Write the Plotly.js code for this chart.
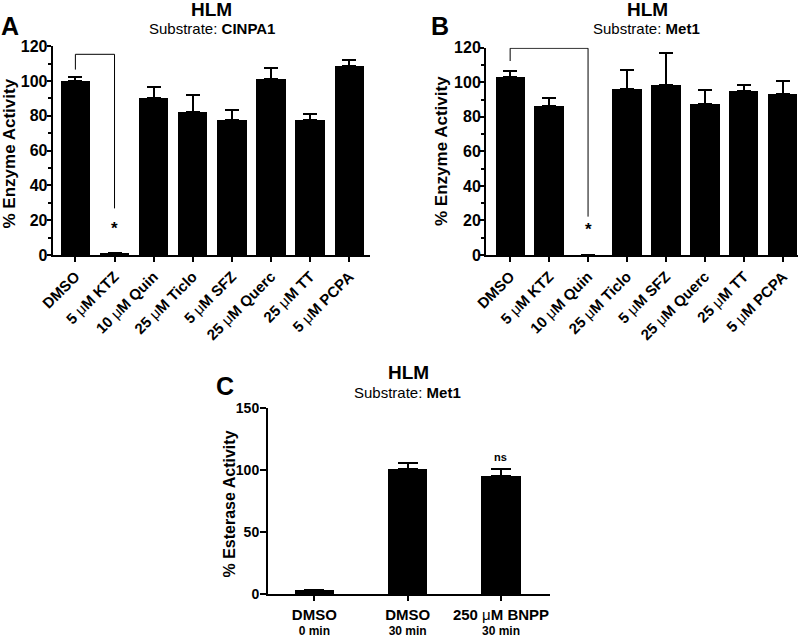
<!DOCTYPE html>
<html>
<head>
<meta charset="utf-8">
<script src="https://cdn.plot.ly/plotly-3.0.1.min.js"></script>
<style>html,body{margin:0;padding:0;background:#fff;}#chart{width:807px;height:638px;}</style>
</head>
<body>
<div id="chart"></div>
<script>
// ---------- data ----------
const catsAB = ['DMSO', '5 <span style="font-weight:normal">μ</span>M KTZ', '10 <span style="font-weight:normal">μ</span>M Quin',
  '25 <span style="font-weight:normal">μ</span>M Ticlo', '5 <span style="font-weight:normal">μ</span>M SFZ',
  '25 <span style="font-weight:normal">μ</span>M Querc', '25 <span style="font-weight:normal">μ</span>M TT',
  '5 <span style="font-weight:normal">μ</span>M PCPA'];
const valsA = [100, 1, 90.3, 82.3, 77.5, 101.2, 77.5, 108.9];
const errA  = [2.3, 0, 6.3, 9.5, 5.7, 6.1, 3.4, 3.4];
const valsB = [102.8, 86.2, 0, 96.3, 98.4, 87.6, 94.9, 93.0];
const errB  = [3.9, 4.5, 0, 10.8, 18.7, 7.7, 3.5, 7.7];

const catsC = ['<span style="font-size:15px">DMSO</span><br><span style="font-size:12px">0 min</span>',
  '<span style="font-size:15px">DMSO</span><br><span style="font-size:12px">30 min</span>',
  '<span style="font-size:15px">250 <span style="font-weight:normal">μ</span>M BNPP</span><br><span style="font-size:12px">30 min</span>'];
const valsC = [3.5, 100.5, 94.9];
const errC  = [0, 5.3, 5.8];

// significance brackets (y values) and marks
const bracketAy = [106.6, 115.4, 115.4, 26.8];
const bracketBy = [112.3, 119.7, 119.7, 22.2];
const bracketAx = [0, 0, 1, 1];
const bracketBx = [0, 0, 2, 2];
const starA = {cat: 1, y: 15};
const starB = {cat: 2, y: 14.5};
const nsC = {cat: 2, y: 110};

// ---------- styling ----------
const FONT = 'Liberation Sans, Arial, Helvetica, sans-serif';
function bar(x, y, err, xa, ya, w, cap) {
  return {type: 'bar', x: x, y: y, xaxis: xa, yaxis: ya, width: w,
    marker: {color: '#000', line: {width: 0}},
    error_y: {type: 'data', symmetric: false, array: err, arrayminus: err.map(() => 0),
      color: '#000', thickness: 2, width: cap},
    hoverinfo: 'none', showlegend: false};
}
function bracket(cats, idx, ys, xa, ya) {
  return {type: 'scatter', mode: 'lines', x: idx.map(i => cats[i]), y: ys, xaxis: xa, yaxis: ya,
    line: {color: '#000', width: 1}, hoverinfo: 'none', showlegend: false, cliponaxis: false};
}

const traces = [
  bar(catsAB, valsA, errA, 'x', 'y', 0.75, 7),
  bracket(catsAB, bracketAx, bracketAy, 'x', 'y'),
  bar(catsAB, valsB, errB, 'x2', 'y2', 0.75, 7),
  bracket(catsAB, bracketBx, bracketBy, 'x2', 'y2'),
  bar(catsC, valsC, errC, 'x3', 'y3', 0.42, 10)
];

function xAxis(domain, range, angle, size, standoff) {
  return {domain: domain, range: range, type: 'category', showline: true, linewidth: 2, linecolor: '#000',
    ticks: 'outside', ticklen: 5, tickwidth: 2, tickcolor: '#000', tickangle: angle,
    ticklabelstandoff: standoff,
    tickfont: {family: FONT, size: size, color: '#000', weight: 'bold'},
    showgrid: false, zeroline: false, fixedrange: true};
}
function yAxis(domain, range, dtick, size, anchor, minor, len, standoff) {
  const a = {domain: domain, range: range, dtick: dtick, anchor: anchor, showline: true, linewidth: 2, linecolor: '#000',
    ticks: 'outside', ticklen: len, tickwidth: 2, tickcolor: '#000', ticklabelstandoff: standoff,
    tickfont: {family: FONT, size: size, color: '#000', weight: 'bold'},
    showgrid: false, zeroline: false, fixedrange: true};
  if (minor) a.minor = {dtick: minor, ticks: 'outside', ticklen: 3, tickwidth: 2, tickcolor: '#000', showgrid: false};
  return a;
}

const W = 807, H = 638;
const px = v => v / W, py = v => 1 - v / H;
function txt(x, y, text, size, opts) {
  return Object.assign({xref: 'paper', yref: 'paper', x: px(x), y: py(y), text: text, showarrow: false,
    xanchor: 'center', yanchor: 'middle', font: {family: FONT, size: size, color: '#000'}}, opts || {});
}

const annotations = [
  txt(10, 26, '<b>A</b>', 25),
  txt(212, 9, '<b>HLM</b>', 19),
  txt(212, 29, 'Substrate: <b>CINPA1</b>', 15),
  txt(8.5, 154, '<b>% Enzyme Activity</b>', 17, {textangle: -90}),
  txt(440, 26, '<b>B</b>', 25),
  txt(647, 9, '<b>HLM</b>', 19),
  txt(646, 29, 'Substrate: <b>Met1</b>', 15),
  txt(442, 151, '<b>% Enzyme Activity</b>', 17, {textangle: -90}),
  txt(225, 386, '<b>C</b>', 25),
  txt(408.5, 372, '<b>HLM</b>', 19),
  txt(407.6, 392, 'Substrate: <b>Met1</b>', 15),
  txt(228.5, 504, '<b>% Esterase Activity</b>', 16, {textangle: -90}),
  {xref: 'x', yref: 'y', x: catsAB[starA.cat], y: starA.y, text: '<b>*</b>', showarrow: false,
    font: {family: FONT, size: 17, color: '#000'}, yanchor: 'middle'},
  {xref: 'x2', yref: 'y2', x: catsAB[starB.cat], y: starB.y, text: '<b>*</b>', showarrow: false,
    font: {family: FONT, size: 17, color: '#000'}, yanchor: 'middle'},
  {xref: 'x3', yref: 'y3', x: catsC[nsC.cat], y: nsC.y, text: '<b>ns</b>', showarrow: false,
    font: {family: FONT, size: 11, color: '#000'}, yanchor: 'middle'}
];

const layout = {
  width: W, height: H, margin: {l: 0, r: 0, t: 0, b: 0}, paper_bgcolor: '#fff', plot_bgcolor: '#fff',
  font: {family: FONT, color: '#000'}, bargap: 0, showlegend: false,
  xaxis: Object.assign(xAxis([52.7 / W, 370 / W], [-0.58, 7.53], -45, 15, 0), {anchor: 'y'}),
  yaxis: yAxis([1 - 255 / H, 1 - 46.3 / H], [0, 120], 20, 16, 'x', 10, 4, -4),
  xaxis2: Object.assign(xAxis([486 / W, 798 / W], [-0.62, 7.39], -45, 15, 0), {anchor: 'y2'}),
  yaxis2: yAxis([1 - 255 / H, 1 - 47.7 / H], [0, 120], 20, 16, 'x2', 10, 4, -4),
  xaxis3: Object.assign(xAxis([268 / W, 550 / W], [-0.496, 2.525], 0, 11.5, 5), {anchor: 'y3'}),
  yaxis3: yAxis([1 - 594.3 / H, 1 - 407.7 / H], [0, 150], 50, 14, 'x3', null, 6, -2),
  annotations: annotations
};

Plotly.newPlot('chart', traces, layout, {staticPlot: true, displayModeBar: false});
</script>
</body>
</html>
